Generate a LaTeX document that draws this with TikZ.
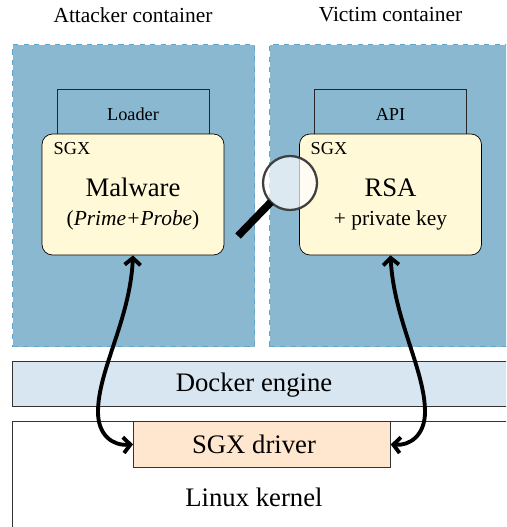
\documentclass[tikz,border=0pt]{standalone}
\usepackage{xcolor}
\usepackage{fontspec}
\usetikzlibrary{arrows.meta}
\setmainfont{Liberation Serif}
\definecolor{containerblue}{HTML}{8AB8D1}
\definecolor{containeredge}{HTML}{5FA5CC}
\definecolor{dockerblue}{HTML}{D7E6F0}
\definecolor{driverorange}{HTML}{FFE6CE}
\definecolor{sgxyellow}{HTML}{FFF9D8}
\tikzset{
  container/.style={shape=rectangle,draw=containeredge,dashed,line width=0.6pt,fill=containerblue,minimum height=6.04cm,anchor=north west},
  layerbox/.style={shape=rectangle,draw=black!80,line width=0.4pt,anchor=north west},
  loaderbox/.style={shape=rectangle,draw=black!85,line width=0.4pt,minimum width=3.04cm,minimum height=1cm,font=\fontsize{10.4}{12}\selectfont},
  enclave/.style={shape=rectangle,rounded corners=6pt,draw=black,line width=0.4pt,fill=sgxyellow,minimum width=3.64cm,minimum height=2.42cm},
  toplabel/.style={font=\fontsize{12.2}{14}\selectfont},
  small/.style={font=\fontsize{10.4}{12}\selectfont},
  medium/.style={font=\fontsize{12.2}{14}\selectfont},
  large/.style={font=\fontsize{15.2}{17}\selectfont},
  sgxcall/.style={line width=2.2pt,>={Straight Barb[length=4pt,width=9pt]},<->},
}
\begin{document}
\begin{tikzpicture}
\useasboundingbox (0,0) rectangle (10.12,-10.54);
\clip (0,0) rectangle (10.12,-10.54);
% containers
\node[toplabel] (attackerl) at (2.66,-0.3) {Attacker container};
\node[toplabel] (victiml) at (7.81,-0.3) {Victim container};
\node[container,minimum width=4.84cm] (attacker) at (0.24,-0.88) {};
\node[container,minimum width=5.4cm] (victim) at (5.38,-0.88) {};
% loader and api sit behind the enclaves
\node[loaderbox] (loader) at (2.66,-2.28) {Loader};
\node[loaderbox] (api) at (7.81,-2.28) {API};
\node[enclave] (malware) at (2.66,-3.89) {};
\node[enclave] (rsa) at (7.81,-3.89) {};
\node[small] (sgxa) at (1.44,-2.98) {SGX};
\node[small] (sgxv) at (6.58,-2.98) {SGX};
\node[large] (malwarel) at (2.66,-3.75) {Malware};
\node[medium] (malwares) at (2.66,-4.41) {(\textit{Prime+Probe})};
\node[large] (rsal) at (7.81,-3.75) {RSA};
\node[medium] (rsas) at (7.81,-4.41) {+ private key};
% layers
\node[layerbox,fill=dockerblue,minimum width=10.4cm,minimum height=0.9cm] (docker) at (0.24,-7.22) {};
\node[large] (dockerl) at (5.08,-7.7) {Docker engine};
\node[layerbox,fill=white,minimum width=10.4cm,minimum height=3cm] (linux) at (0.24,-8.42) {};
\node[layerbox,fill=driverorange,minimum width=5.14cm,minimum height=0.92cm] (driver) at (2.66,-8.42) {};
\node[large] (driverl) at (5.08,-8.88) {SGX driver};
\node[large] (linuxl) at (5.08,-9.94) {Linux kernel};
% magnifier
\coordinate (handle) at (4.76,-4.72);
\node[shape=circle,draw=black!75,line width=1.3pt,fill=white,fill opacity=0.7,minimum size=1.08cm] (lens) at (5.8,-3.66) {};
\draw[line width=4.3pt] (lens) ++(-135:0.54) -- (handle);
% calls into the driver
\draw[sgxcall] (malware.south) .. controls (2.6,-6.4) and (1.96,-7.4) .. (1.96,-8.24) .. controls (1.96,-8.7) and (2.25,-8.92) .. (driver.west);
\draw[sgxcall] (rsa.south) .. controls (7.88,-6.4) and (8.5,-7.4) .. (8.5,-8.24) .. controls (8.5,-8.7) and (8.2,-8.92) .. (driver.east);
\end{tikzpicture}
\end{document}
